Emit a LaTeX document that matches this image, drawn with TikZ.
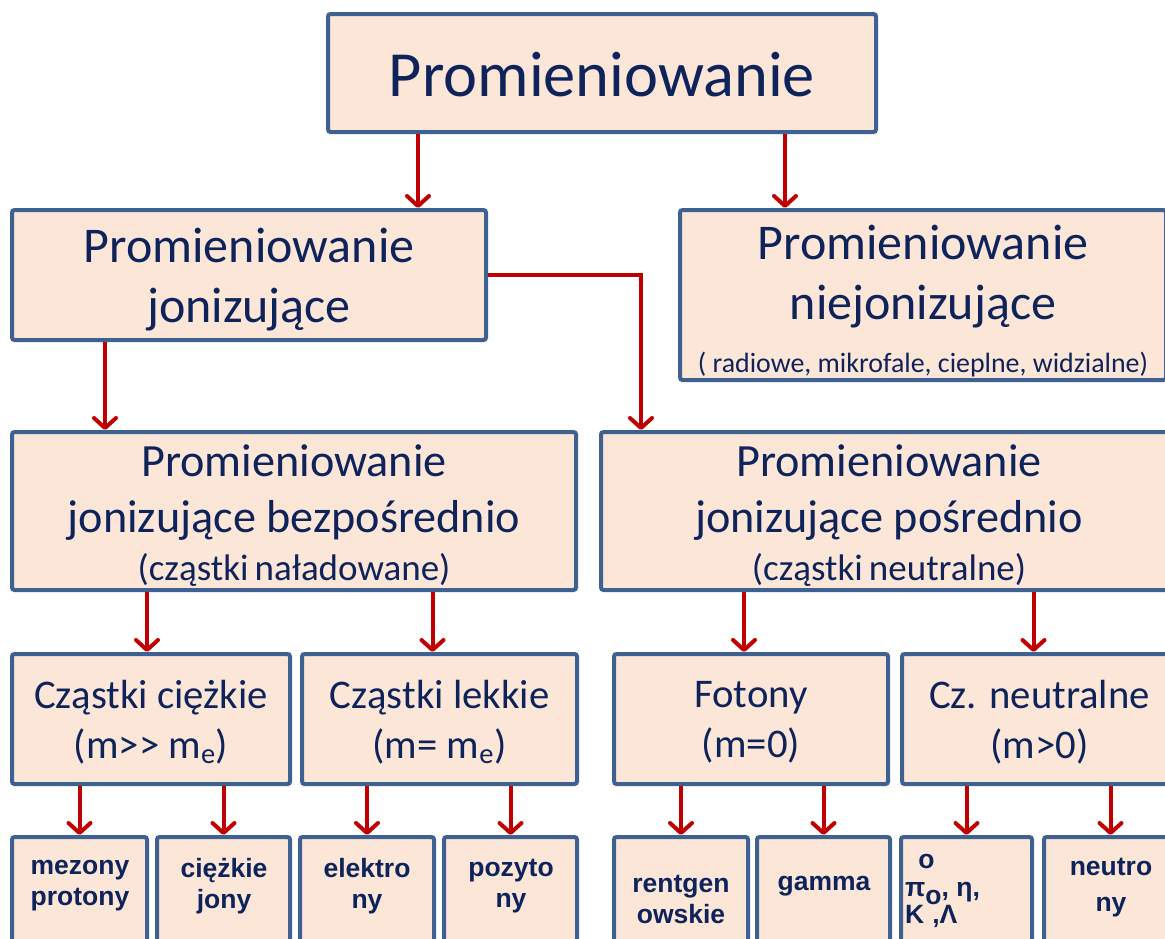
\documentclass[tikz,border=0pt]{standalone}
\usepackage{fontspec}
\setmainfont{Carlito}
\newfontfamily\arialf{Liberation Sans}
\usetikzlibrary{arrows.meta}
\definecolor{boxfill}{HTML}{FCE6D8}
\definecolor{boxline}{HTML}{3E6191}
\definecolor{txtc}{HTML}{0D235A}
\definecolor{arrc}{HTML}{C00000}
\tikzset{
  box/.style={draw=boxline, fill=boxfill, line width=4pt, rounded corners=2.5pt,
    inner sep=0pt},
  tx/.style={text=txtc, align=center, inner sep=0pt, yshift=-5pt},
  conn/.style={draw=arrc, line width=4pt,
    -{Straight Barb[length=10pt,width=22pt,line cap=round,line join=round]}},
  lbl/.style={text=txtc, align=center, inner sep=0pt,
    font=\arialf\bfseries\fontsize{26.5}{31}\selectfont},
  fA/.style={font=\fontsize{64.4}{76}\selectfont},
  fB/.style={font=\fontsize{50}{60}\selectfont},
  fC/.style={font=\fontsize{46.2}{56}\selectfont},
  fD/.style={font=\fontsize{40.7}{50}\selectfont},
}
\begin{document}
\begin{tikzpicture}[x=1pt,y=-1pt]
\useasboundingbox (0,0) rectangle (1165,938);
\clip (0,0) rectangle (1165,938);
% boxes
\node[box, minimum width=548, minimum height=118] (top) at (602,73) {};
\node[box, minimum width=474, minimum height=130] (jon) at (249,275) {};
\node[box, minimum width=486, minimum height=170] (niejon) at (923,295) {};
\node[box, minimum width=564, minimum height=158] (b3l) at (294,511) {};
\node[box, minimum width=576, minimum height=158] (b3r) at (889,511) {};
\node[box, minimum width=278, minimum height=130] (c41) at (151,719) {};
\node[box, minimum width=275, minimum height=130] (c42) at (439.5,719) {};
\node[box, minimum width=274, minimum height=130] (c43) at (751,719) {};
\node[box, minimum width=275, minimum height=130] (c44) at (1039.5,719) {};
\foreach \n/\cx/\w in {d1/79.5/135, d2/223.5/133, d3/367/134, d4/510.5/133,
                       d5/681/134, d6/823.5/133, d7/966.5/131, d8/1110.5/133}
  \node[box, minimum width=\w, minimum height=163] (\n) at (\cx,918.5) {};
% texts
\node[tx, fA, yshift=3pt] (topT) at (top) {Promieniowanie};
\node[tx, fB] (jonT) at (jon) {Promieniowanie\\jonizujące};
\node[tx, fB, yshift=-1pt] (niejonT) at (niejon)
  {Promieniowanie\\niejonizujące\\[-7pt]{\fontsize{27.9}{33}\selectfont ( radiowe, mikrofale, cieplne, widzialne)}};
\node[tx, fC] (b3lT) at (b3l)
  {Promieniowanie\\jonizujące bezpośrednio\\[-8pt]{\fontsize{37}{42}\selectfont (cząstki\,naładowane)}};
\node[tx, fC] (b3rT) at (b3r)
  {Promieniowanie\\jonizujące pośrednio\\[-8pt]{\fontsize{37}{42}\selectfont (cząstki\,neutralne)}};
\node[tx, fD, yshift=2pt] (c41T) at (c41) {Cząstki ciężkie\\(m>\kern0pt> m\textsubscript{e})};
\node[tx, fD, yshift=2pt] (c42T) at (c42) {Cząstki lekkie\\(m= m\textsubscript{e})};
\node[tx, fD, yshift=2pt] (c43T) at (c43) {Fotony\\(m=0)};
\node[tx, fD, yshift=2pt] (c44T) at (c44) {Cz. neutralne\\(m>0)};
\node[lbl] (t1) at (80,886) {mezony\\protony};
\node[lbl] (t2) at (224,886) {ciężkie\\jony};
\node[lbl] (t3) at (367,886) {elektro\\ny};
\node[lbl] (t4) at (511,886) {pozyto\\ny};
\node[lbl] (t5) at (681,899) {rentgen\\owskie};
\node[lbl] (t6) at (824,886) {gamma};
\node[lbl, align=left, anchor=west, font=\arialf\bfseries\fontsize{26.5}{27.5}\selectfont] (t7) at (905,891)
  {\hspace*{0.5em}o\\π\raisebox{-0.3em}{o}, η,\\K\hspace{0.3em},Λ};
\node[lbl, font=\arialf\bfseries\fontsize{26.5}{36}\selectfont] (t8) at (1111,888) {neutro\\ny};
% connectors
\draw[conn] ([xshift=-184pt]top.south) -- ([xshift=-184pt]top.south |- jon.north);
\draw[conn] ([xshift=183pt]top.south) -- ([xshift=183pt]top.south |- niejon.north);
\draw[conn] ([xshift=-144pt]jon.south) -- ([xshift=-144pt]jon.south |- b3l.north);
\draw[conn] (jon.east) -| ([xshift=-248pt]b3r.north);
\draw[conn] ([xshift=-4pt]c41.north |- b3l.south) -- ([xshift=-4pt]c41.north);
\draw[conn] ([xshift=-7pt]c42.north |- b3l.south) -- ([xshift=-7pt]c42.north);
\draw[conn] ([xshift=-7pt]c43.north |- b3r.south) -- ([xshift=-7pt]c43.north);
\draw[conn] ([xshift=-6pt]c44.north |- b3r.south) -- ([xshift=-6pt]c44.north);
\draw[conn] (d1.north |- c41.south) -- (d1.north);
\draw[conn] (d2.north |- c41.south) -- (d2.north);
\draw[conn] (d3.north |- c42.south) -- (d3.north);
\draw[conn] (d4.north |- c42.south) -- (d4.north);
\draw[conn] (d5.north |- c43.south) -- (d5.north);
\draw[conn] (d6.north |- c43.south) -- (d6.north);
\draw[conn] (d7.north |- c44.south) -- (d7.north);
\draw[conn] (d8.north |- c44.south) -- (d8.north);
\end{tikzpicture}
\end{document}
